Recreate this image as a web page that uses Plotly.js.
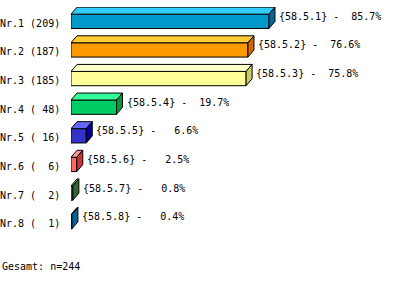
<!DOCTYPE html>
<html><head><meta charset="utf-8">
<script src="https://cdn.plot.ly/plotly-3.0.1.min.js"></script>
<style>html,body{margin:0;padding:0;background:#fff;}#chart{width:405px;height:282px;}</style>
</head><body><div id="chart"></div>
<script>
const categories = ["Nr.1","Nr.2","Nr.3","Nr.4","Nr.5","Nr.6","Nr.7","Nr.8"];
const counts = [209,187,185,48,16,6,2,1];
const percents = [85.7,76.6,75.8,19.7,6.6,2.5,0.8,0.4];
const codes = ["{58.5.1}","{58.5.2}","{58.5.3}","{58.5.4}","{58.5.5}","{58.5.6}","{58.5.7}","{58.5.8}"];
const total = 244;

const frontColors = ["#0099CC","#FF9900","#FFFF99","#00CC66","#3333CC","#FF6666","#669966","#3399CC"];
const topColors   = ["#33CCFF","#FFCC33","#FFFFCC","#33FF99","#6666FF","#FF9999","#99CC99","#66CCFF"];
const sideColors  = ["#006699","#CC6600","#CCCC66","#009933","#000099","#CC3333","#336633","#006699"];

const W = 405, H = 282;
const mL = 71, plotW = 231, band = 28.7;
const n = categories.length;
const plotH = band * n;
const mT = 21 - band / 2;
const pxPerUnit = plotW / 100;
const dxPx = 6, dyPx = 7;
const dx = dxPx / pxPerUnit, dy = dyPx / band;
const half = 0.25;
const nbsp = s => s.replace(/ /g, "\u00a0");
const pad = (s, w) => (" ".repeat(w) + s).slice(-w);

const yIdx = categories.map((_, i) => i);
const traces = [];
traces.push({
  type: "bar", orientation: "h", x: percents, y: yIdx, width: 2 * half,
  marker: {color: frontColors, line: {color: "#000", width: 1}},
  hoverinfo: "skip", showlegend: false
});
percents.forEach((v, i) => {
  const t = i - half, b = i + half;
  traces.push({
    type: "scatter", mode: "lines", fill: "toself", fillcolor: topColors[i],
    x: [0, v, v + dx, dx, 0], y: [t, t, t - dy, t - dy, t],
    line: {color: "#000", width: 1}, hoverinfo: "skip", showlegend: false
  });
  traces.push({
    type: "scatter", mode: "lines", fill: "toself", fillcolor: sideColors[i],
    x: [v, v + dx, v + dx, v, v], y: [t, t - dy, b - dy, b, t],
    line: {color: "#000", width: 1}, hoverinfo: "skip", showlegend: false
  });
});

const font = {family: "DejaVu Sans Mono, Liberation Mono, monospace", size: 10, color: "#000"};
const annotations = [];
categories.forEach((c, i) => {
  annotations.push({
    xref: "paper", yref: "y", x: 0, y: i, xanchor: "right", yanchor: "middle",
    xshift: -9, yshift: -2, showarrow: false, font: font,
    text: nbsp(c + " (" + pad(String(counts[i]), 3) + ")")
  });
  annotations.push({
    xref: "x", yref: "y", x: percents[i], y: i, xanchor: "left", yanchor: "middle",
    xshift: dxPx + 2, yshift: 5, showarrow: false, font: font,
    text: nbsp(codes[i] + " - " + pad(percents[i].toFixed(1), 5) + "%")
  });
});
annotations.push({
  xref: "paper", yref: "paper", x: -mL / plotW, y: -((267 - (mT + plotH)) / plotH),
  xanchor: "left", yanchor: "middle", showarrow: false, font: font,
  text: nbsp("Gesamt: n=" + total)
});

const layout = {
  width: W, height: H,
  margin: {l: mL, r: W - mL - plotW, t: mT, b: H - mT - plotH, pad: 0},
  paper_bgcolor: "#fff", plot_bgcolor: "#fff",
  xaxis: {range: [0, 100], visible: false, fixedrange: true},
  yaxis: {range: [n - 0.5, -0.5], visible: false, fixedrange: true},
  annotations: annotations, showlegend: false, font: font
};
Plotly.newPlot("chart", traces, layout, {staticPlot: true, displayModeBar: false});
</script></body></html>
